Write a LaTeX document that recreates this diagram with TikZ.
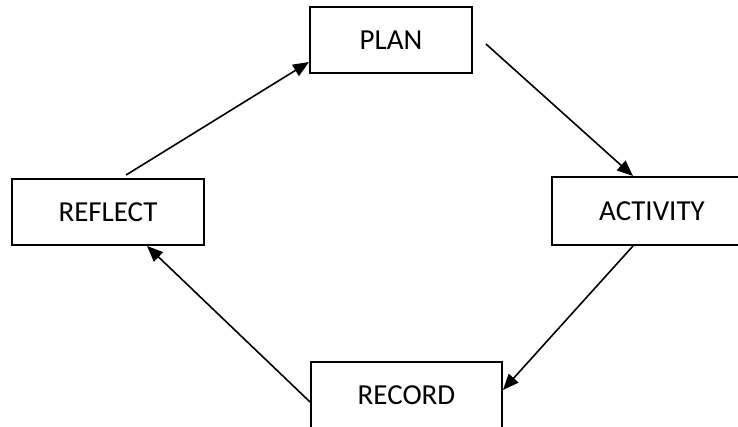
\documentclass[tikz,border=0pt]{standalone}
\usepackage{fontspec}
\setmainfont{Carlito}
\usetikzlibrary{arrows.meta}
\begin{document}
\begin{tikzpicture}[x=1pt,y=-1pt,
  box/.style={draw=black,line width=1.9pt,fill=white,inner sep=0pt,
    font=\fontsize{29}{34}\selectfont},
  conn/.style={line width=1.6pt,-{Triangle[length=16pt,width=13pt]}}]
\useasboundingbox (0,0) rectangle (738,427);
\begin{scope}
\clip (0,0) rectangle (738,427);
\node[box,minimum width=162pt,minimum height=66pt] (plan) at (391,40) {PLAN};
\node[box,minimum width=200pt,minimum height=68pt] (activity) at (652,211) {ACTIVITY};
\node[box,minimum width=192pt,minimum height=66pt] (reflect) at (108,212) {REFLECT};
\node[box,minimum width=191pt,minimum height=66pt] (record) at (406.5,395) {RECORD};
\draw[conn] ([xshift=18pt,yshift=3pt]reflect.north) -- ([yshift=-22pt]plan.west);
\draw[conn] ([xshift=13pt,yshift=-4pt]plan.east) -- ([xshift=-19pt]activity.north);
\draw[conn] ([xshift=-19pt]activity.south) -- ([yshift=5pt]record.east);
\draw[conn] ([yshift=-7pt]record.west) -- ([xshift=39pt]reflect.south);
\end{scope}
\end{tikzpicture}
\end{document}
